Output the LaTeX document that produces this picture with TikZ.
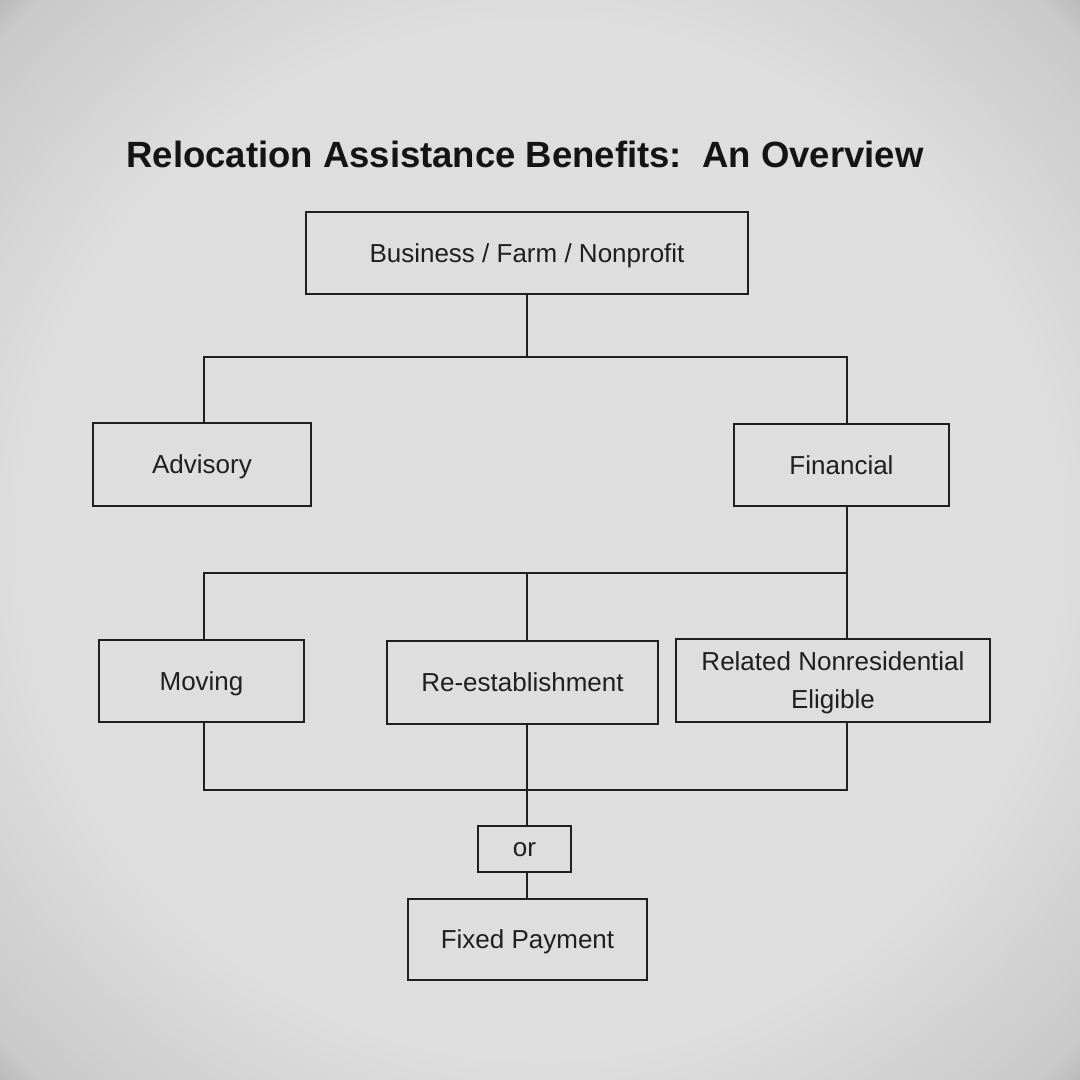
\documentclass[tikz,border=0pt]{standalone}
\usepackage{fontspec}
\setmainfont{Liberation Sans}
\definecolor{pagegray}{gray}{0.87}
\definecolor{edgegray}{gray}{0.79}
\definecolor{cornergray}{gray}{0.32}
\pgfdeclareradialshading{vign}{\pgfpoint{0bp}{0bp}}{color(0bp)=(pagegray); color(24bp)=(pagegray); color(34bp)=(edgegray); color(44bp)=(cornergray); color(50bp)=(cornergray)}
\begin{document}
\begin{tikzpicture}[x=1pt,y=-1pt,
  box/.style={draw=black!88, line width=2.7pt, rectangle, inner sep=0pt,
    font=\fontsize{26}{38}\selectfont, align=center, text=black!88, text depth=0pt},
  link/.style={draw=black!88, line width=2.7pt, line cap=rect}]
\shade[shading=vign] (0,0) rectangle (1080,1080);
\useasboundingbox (0,0) rectangle (1080,1080);

\node[font=\bfseries\fontsize{36.5}{42}\selectfont, text=black!92] (title) at (525,154)
  {Relocation Assistance Benefits:\ \ An Overview};

\node[box, minimum width=442, minimum height=82] (top) at (527,253) {Business / Farm / Nonprofit};
\node[box, minimum width=218, minimum height=83] (adv) at (202,464.5) {Advisory};
\node[box, minimum width=215, minimum height=82] (fin) at (841.5,465) {Financial};
\node[box, minimum width=205, minimum height=82] (mov) at (201.5,681) {Moving};
\node[box, minimum width=271, minimum height=83] (reest) at (522.5,682.5) {Re-establishment};
\node[box, minimum width=314, minimum height=83] (rel) at (833,680.5) {Related Nonresidential\\Eligible};
\node[box, minimum width=93, minimum height=46] (orb) at (524.5,849) {or};
\node[box, minimum width=239, minimum height=81] (fix) at (527.5,939.5) {Fixed Payment};

\coordinate (xl) at (204,0);
\coordinate (xm) at (527,0);
\coordinate (xr) at (847,0);
\coordinate (j1) at (527,357);
\coordinate (j2) at (847,573);
\coordinate (j3) at (527,790);

\draw[link] (top.south -| xm) -- (j1);
\draw[link] (adv.north -| xl) |- (j1) -| (fin.north -| xr);
\draw[link] (fin.south -| xr) -- (rel.north -| xr);
\draw[link] (mov.north -| xl) |- (j2);
\draw[link] (reest.north -| xm) -- (j2 -| xm);
\draw[link] (mov.south -| xl) |- (j3) -| (rel.south -| xr);
\draw[link] (reest.south -| xm) -- (orb.north -| xm);
\draw[link] (orb.south -| xm) -- (fix.north -| xm);
\end{tikzpicture}
\end{document}
